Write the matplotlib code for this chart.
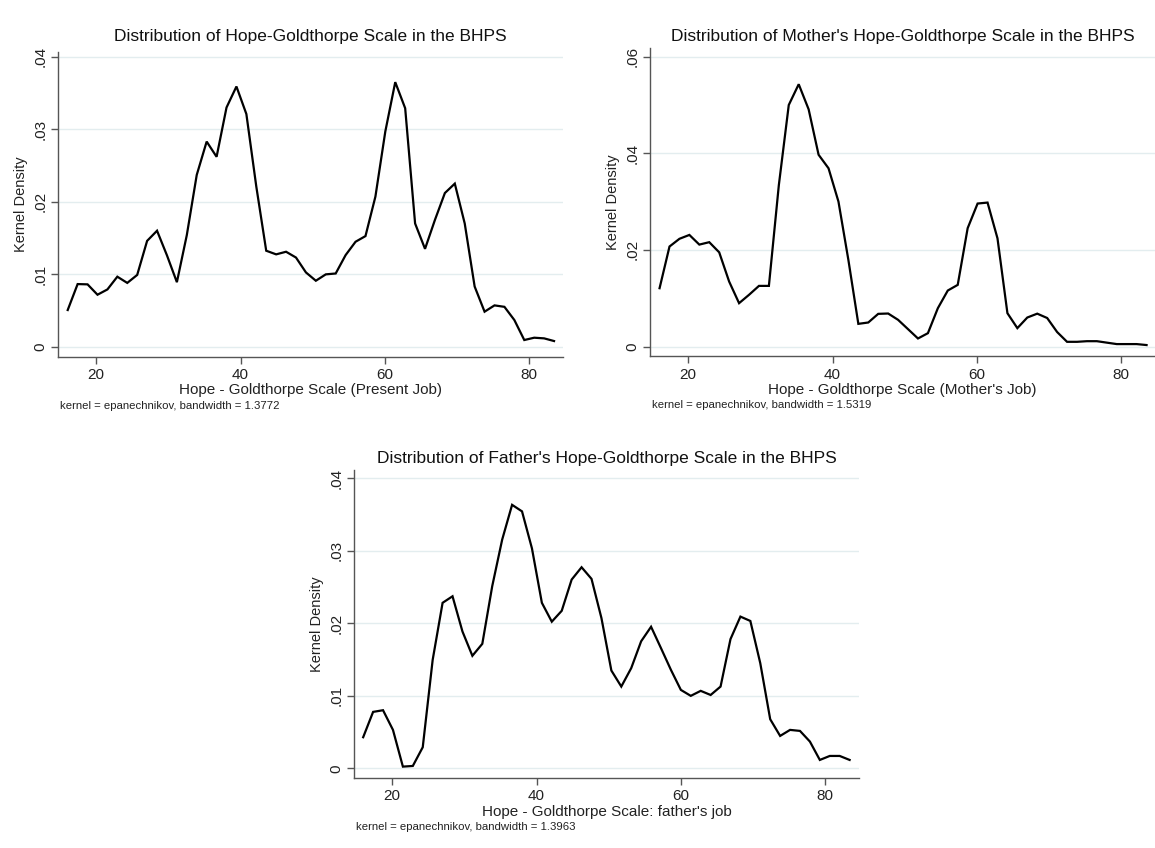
import numpy as np
import matplotlib.pyplot as plt

plt.rcParams['font.family'] = ['Liberation Sans', 'DejaVu Sans']

# evaluation grid (Stata kdensity, 50 points from min to max)
x_own = np.linspace(16.05, 83.43, 50)
x_mother = np.linspace(16.03, 83.50, 50)
x_father = np.linspace(15.99, 83.37, 50)

dens_own = [0.00506, 0.00864, 0.0086, 0.00717, 0.0079, 0.00966, 0.0088, 0.0099, 0.0146, 0.0160,
            0.0126, 0.0089, 0.0154, 0.0237, 0.0283, 0.0262, 0.0330, 0.0359, 0.0321, 0.0221,
            0.01324, 0.01274, 0.0131, 0.0123, 0.01025, 0.0091, 0.00998, 0.0101, 0.01264, 0.01448,
            0.01526, 0.0207, 0.0297, 0.0365, 0.0329, 0.0170, 0.0135, 0.0175, 0.0212, 0.0225,
            0.0170, 0.0083, 0.00483, 0.0057, 0.0055, 0.00368, 0.00092, 0.00124, 0.00115, 0.00078]

dens_mother = [0.01207, 0.0207, 0.0223, 0.0231, 0.0211, 0.0216, 0.0195, 0.01345, 0.00897, 0.0107,
               0.01255, 0.01255, 0.0334, 0.0500, 0.0543, 0.0491, 0.0397, 0.0369, 0.0300, 0.0179,
               0.00469, 0.00497, 0.00676, 0.00683, 0.00552, 0.00359, 0.00166, 0.00276, 0.00793, 0.01159,
               0.01276, 0.0245, 0.0296, 0.0298, 0.0224, 0.0069, 0.0038, 0.0060, 0.0068, 0.0059,
               0.0030, 0.00097, 0.00097, 0.0011, 0.0011, 0.0008, 0.0005, 0.0005, 0.0005, 0.0003]

dens_father = [0.00428, 0.00777, 0.0080, 0.00529, 0.00023, 0.00032, 0.0029, 0.01494, 0.0228, 0.0237,
               0.01885, 0.0155, 0.01715, 0.0251, 0.0315, 0.0363, 0.0354, 0.0303, 0.0228, 0.0202,
               0.0217, 0.0260, 0.0277, 0.0261, 0.0207, 0.01347, 0.01126, 0.0138, 0.0175, 0.0195,
               0.01655, 0.01356, 0.0108, 0.00998, 0.01067, 0.0101, 0.01126, 0.0178, 0.0209, 0.0203,
               0.01448, 0.00676, 0.00446, 0.00529, 0.00515, 0.00368, 0.00115, 0.0017, 0.0017, 0.00115]

titles = ["Distribution of Hope-Goldthorpe Scale in the BHPS",
          "Distribution of Mother's Hope-Goldthorpe Scale in the BHPS",
          "Distribution of Father's Hope-Goldthorpe Scale in the BHPS"]
xlabels = ["Hope - Goldthorpe Scale (Present Job)",
           "Hope - Goldthorpe Scale (Mother's Job)",
           "Hope - Goldthorpe Scale: father's job"]
notes = ["kernel = epanechnikov, bandwidth = 1.3772",
         "kernel = epanechnikov, bandwidth = 1.5319",
         "kernel = epanechnikov, bandwidth = 1.3963"]
yticks_own = [0, 0.01, 0.02, 0.03, 0.04]
yticks_mother = [0, 0.02, 0.04, 0.06]
yticks_father = [0, 0.01, 0.02, 0.03, 0.04]
xticks = [20, 40, 60, 80]

W, H = 1155, 848
fig = plt.figure(figsize=(W / 100, H / 100), dpi=100)
fig.patch.set_facecolor('white')

# axes boxes in pixels: left, top, right, bottom
boxes = [(58.4, 51.7, 562.5, 356.7),
         (650.4, 48.5, 1154.5, 356.5),
         (354.3, 470.0, 858.5, 778.3)]
title_y = [36, 36, 458]
ylims = [(-0.00138, 0.0407), (-0.00207, 0.0617), (-0.00138, 0.0411)]

series = [(x_own, dens_own, yticks_own),
          (x_mother, dens_mother, yticks_mother),
          (x_father, dens_father, yticks_father)]

def fmt(v):
    if v == 0:
        return "0"
    return ("%.2f" % v).lstrip("0")

for k in range(3):
    l, t, r, b = boxes[k]
    ax = fig.add_axes([l / W, 1 - b / H, (r - l) / W, (b - t) / H])
    xs, ys, yt = series[k]
    for v in yt:
        ax.axhline(v, color='#e3edef', lw=1.0, zorder=0)
    ax.plot(xs, ys, color='black', lw=1.6, solid_joinstyle='miter', zorder=3)
    ax.set_xlim(14.76, 84.6)
    ax.set_ylim(*ylims[k])
    ax.set_xticks(xticks)
    ax.set_yticks(yt)
    ax.set_yticklabels([fmt(v) for v in yt], rotation=90, va='center')
    for s in ['top', 'right']:
        ax.spines[s].set_visible(False)
    for s in ['left', 'bottom']:
        ax.spines[s].set_color('#555555')
        ax.spines[s].set_linewidth(1.0)
    ax.tick_params(axis='both', direction='out', length=5, width=1.0, color='#555555',
                   labelsize=11, labelcolor='#222222', pad=3)
    ax.set_xlabel(xlabels[k], fontsize=11, color='#222222', labelpad=1)
    ax.set_ylabel("Kernel Density", fontsize=10.5, color='#222222', labelpad=4)
    ax.set_facecolor('white')
    fig.text((l + r) / 2 / W, 1 - title_y[k] / H, titles[k], fontsize=12.5,
             color='#111111', ha='center', va='center')
    fig.text((l + 2) / W, 1 - (b + 49) / H, notes[k], fontsize=8.2, color='#222222',
             ha='left', va='center')

fig.savefig("out.png", dpi=100)
